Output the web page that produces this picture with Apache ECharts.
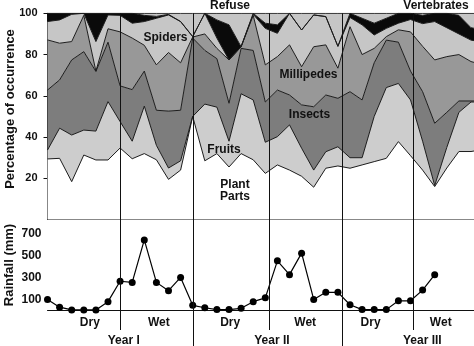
<!DOCTYPE html>
<html>
<head>
<meta charset="utf-8">
<script src="https://cdn.jsdelivr.net/npm/echarts@6/dist/echarts.min.js"></script>
<style>
  html, body { margin: 0; padding: 0; background: #ffffff; }
  #chart { width: 474px; height: 346px; }
</style>
</head>
<body>
<div id="chart"></div>
<script>
// Month index of each sample (37 consecutive months)
const months = ['0','1','2','3','4','5','6','7','8','9','10','11','12','13','14','15','16','17','18',
                '19','20','21','22','23','24','25','26','27','28','29','30','31','32','33','34','35','36'];

// Monthly diet composition (% of occurrence), stacked bottom to top.
const plantParts  = [29.4, 29.7, 18.4, 31.3, 28.9, 28.9, 34.7, 29.5, 32.0, 29.0, 19.5, 24.0, 50.0, 28.5, 32.0, 25.5, 32.0, 29.0, 22.4, 26.5, 24.0, 21.0, 15.7, 24.9, 26.0, 24.9, 26.5, 28.1, 29.7, 37.8, 31.0, 24.0, 16.0, 25.0, 33.0, 33.0, 34.0];
const fruits      = [4.3, 14.6, 22.6, 12.1, 14.0, 28.3, 12.8, 8.5, 23.0, 7.0, 5.5, 4.5, 0.0, 27.5, 22.5, 12.5, 29.0, 29.0, 15.1, 13.7, 21.9, 13.6, 8.3, 8.0, 9.3, 5.1, 3.5, 21.9, 34.3, 28.2, 27.0, 14.0, 0.5, 10.0, 19.0, 24.0, 23.0];
const insects     = [29.1, 23.4, 36.4, 38.0, 28.9, 28.8, 17.3, 25.0, 17.0, 17.0, 27.6, 24.5, 38.0, 26.0, 23.5, 18.4, 22.0, 24.0, 19.5, 22.6, 14.5, 21.0, 30.7, 27.5, 23.5, 32.0, 28.0, 26.0, 23.0, 20.0, 14.0, 24.0, 30.2, 17.0, 5.5, 0.5, 0.5];
const millipedes  = [24.3, 17.8, 8.9, 17.6, 0.2, 6.5, 26.2, 25.0, 12.5, 22.0, 28.4, 23.0, 0.5, 8.0, 5.0, 21.0, 0.8, 17.0, 18.0, 16.2, 24.3, 18.5, 29.1, 24.3, 14.6, 31.5, 22.0, 7.0, 1.7, 6.0, 19.0, 22.0, 30.7, 27.0, 22.5, 19.1, 17.5];
const spiders     = [8.9, 11.3, 13.2, 1.0, 14.3, 6.7, 8.0, 7.2, 11.5, 22.6, 18.2, 20.0, 0.2, 10.0, 5.0, 0.0, 0.0, 0.5, 17.7, 11.3, 15.3, 17.8, 15.4, 13.7, 10.6, 4.5, 14.4, 6.5, 4.0, 3.2, 6.0, 11.0, 18.6, 14.0, 10.0, 10.4, 11.0];
const vertebrates = [4.0, 3.2, 0.5, 0.0, 13.7, 0.8, 1.0, 4.8, 3.0, 0.9, 0.3, 0.0, 0.0, 0.0, 8.8, 17.0, 0.0, 0.5, 2.5, 4.1, 0.0, 0.0, 0.0, 0.0, 0.0, 2.0, 3.2, 5.7, 4.9, 4.8, 3.0, 4.0, 4.0, 7.0, 9.0, 6.0, 6.0];
const refuse      = [0.0, 0.0, 0.0, 0.0, 0.0, 0.0, 0.0, 0.0, 1.0, 1.5, 0.5, 4.0, 11.3, 0.0, 3.2, 5.6, 16.2, 0.0, 4.8, 5.6, 0.0, 8.1, 0.8, 1.6, 16.0, 0.0, 2.4, 4.8, 2.4, 0.0, 0.0, 1.0, 0.0, 0.0, 1.0, 7.0, 8.0];

// Monthly rainfall (mm)
const rainfall = [100, 30, 5, 5, 5, 80, 265, 255, 640, 255, 180, 300, 47, 25, 8, 8, 20, 80, 115, 450, 325, 520, 100, 165, 165, 52, 8, 8, 8, 88, 88, 185, 325];

// Season and year annotations, in months along the time axis
const seasonNames  = ['Dry', 'Wet', 'Dry', 'Wet', 'Dry', 'Wet'];
const seasonCentre = [3.5, 9.2, 15.1, 21.3, 26.7, 32.5];
const yearNames    = ['Year I', 'Year II', 'Year III'];
const yearCentre   = [6.3, 18.55, 30.98];
const seasonBreaks = [6, 12, 18.3, 24.3, 30.2];
const yearBreaks   = [12, 24.3];

const FONT = '"Liberation Sans", Arial, Helvetica, sans-serif';
const INK = '#111111';

const layers = [
  { name: 'Plant Parts', values: plantParts,  color: '#ffffff' },
  { name: 'Fruits',      values: fruits,      color: '#cdcdcd' },
  { name: 'Insects',     values: insects,     color: '#7d7d7d' },
  { name: 'Millipedes',  values: millipedes,  color: '#989898' },
  { name: 'Spiders',     values: spiders,     color: '#c6c6c6' },
  { name: 'Vertebrates', values: vertebrates, color: '#0a0a0a' },
  { name: 'Refuse',      values: refuse,      color: '#c6c6c6' }
];

const chart = echarts.init(document.getElementById('chart'), null, { renderer: 'canvas' });

const bold = (size) => ({ fontFamily: FONT, fontWeight: 'bold', fontSize: size, color: INK });

// The month axis runs past the right edge of the canvas (12.1 px per month).
const monthAxis = (gridIndex) => ({
  gridIndex: gridIndex, type: 'category', data: months, boundaryGap: false,
  axisLine: { show: true, lineStyle: { color: INK, width: 1 } },
  axisTick: { show: false }, axisLabel: { show: false }, splitLine: { show: false }
});

chart.setOption({
  animation: false,
  backgroundColor: '#ffffff',
  grid: [
    { left: 47.5, width: 435.6, top: 13.3, height: 206.3, outerBoundsMode: 'none', containLabel: false },
    { left: 47.5, width: 435.6, top: 233.3, height: 77.2, outerBoundsMode: 'none', containLabel: false }
  ],
  xAxis: [monthAxis(0), monthAxis(1)],
  yAxis: [
    { gridIndex: 0, type: 'value', min: 0, max: 100, interval: 20,
      axisLine: { show: true, lineStyle: { color: INK, width: 1 } },
      axisTick: { show: true, length: 4, lineStyle: { color: INK } },
      axisLabel: Object.assign({ showMinLabel: false, margin: 10 }, bold(11)),
      splitLine: { show: false } },
    { gridIndex: 1, type: 'value', min: 0, max: 700, interval: 100,
      axisLine: { show: false }, axisTick: { show: false },
      axisLabel: Object.assign({ margin: 6,
        formatter: (v) => ((v / 100) % 2 === 1 ? String(v) : '') }, bold(12)),
      splitLine: { show: false } }
  ],
  series: layers.map((layer) => ({
    name: layer.name,
    type: 'line',
    xAxisIndex: 0,
    yAxisIndex: 0,
    stack: 'diet',
    symbol: 'none',
    lineStyle: { color: '#1c1c1c', width: 1 },
    areaStyle: { color: layer.color, opacity: 1 },
    data: layer.values
  })).concat([{
    name: 'Rainfall',
    type: 'line',
    xAxisIndex: 1,
    yAxisIndex: 1,
    clip: false,
    symbol: 'circle',
    symbolSize: 7,
    itemStyle: { color: '#000000' },
    lineStyle: { color: '#000000', width: 1.2 },
    data: rainfall,
    z: 5
  }])
});

// Annotations: divider lines, layer names, axis titles, seasons and years
const x0 = chart.convertToPixel({ xAxisIndex: 0 }, 0);
const step = chart.convertToPixel({ xAxisIndex: 0 }, 1) - x0;
const px = (month) => x0 + month * step;
const graphic = [];

seasonBreaks.forEach((m) => {
  const x = Math.round(px(m)) + 0.5;
  const bottom = yearBreaks.indexOf(m) >= 0 ? 346 : 330;
  graphic.push({ type: 'line', z: 50, silent: true,
    shape: { x1: x, y1: 13.3, x2: x, y2: bottom },
    style: { stroke: INK, lineWidth: 1 } });
});

function addText(text, x, y, size, extra) {
  graphic.push(Object.assign({
    type: 'text', z: 60, silent: true, x: x, y: y,
    style: { text: text, fill: INK, font: 'bold ' + size + 'px ' + FONT,
             textAlign: 'center', textVerticalAlign: 'middle' }
  }, extra || {}));
}

addText('Refuse', 230, 5.5, 12);
addText('Vertebrates', 436, 5.5, 12);
addText('Spiders', 165.5, 37.5, 12);
addText('Millipedes', 308.5, 75, 12);
addText('Insects', 309.5, 115, 12);
addText('Fruits', 224, 149.5, 12);
addText('Plant', 235, 185, 12);
addText('Parts', 235, 196.5, 12);

addText('Percentage of occurrence', 10, 109, 13, { rotation: Math.PI / 2 });
addText('Rainfall (mm)', 9, 265, 13, { rotation: Math.PI / 2 });

seasonNames.forEach((name, i) => addText(name, px(seasonCentre[i]), 323, 12));
yearNames.forEach((name, i) => addText(name, px(yearCentre[i]), 341, 12));

chart.setOption({ graphic: graphic });
</script>
</body>
</html>
